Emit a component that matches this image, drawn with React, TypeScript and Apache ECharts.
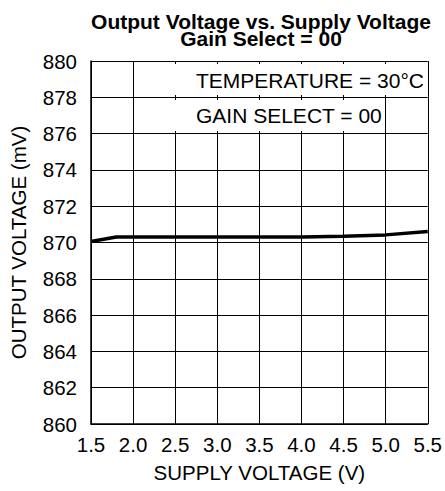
import React, { useEffect, useRef } from "react";
import * as echarts from "echarts";

const supplyVoltage = [1.5, 1.8, 2.0, 2.5, 3.0, 3.5, 4.0, 4.5, 5.0, 5.5];
const outputVoltage = [870.05, 870.3, 870.3, 870.3, 870.3, 870.3, 870.3, 870.35, 870.42, 870.6];
const titleLines = ["Output Voltage vs. Supply Voltage", "Gain Select = 00"];
const notes = ["TEMPERATURE = 30°C", "GAIN SELECT = 00"];

const FONT = "Liberation Sans, Arial, sans-serif";
const FS = 20.5;

export default function App() {
  const ref = useRef<HTMLDivElement>(null);
  useEffect(() => {
    if (!ref.current) return;
    const chart = echarts.init(ref.current, null, { renderer: "svg" });
    chart.setOption({
      animation: false,
      backgroundColor: "#ffffff",
      textStyle: { fontFamily: FONT, color: "#000" },
      title: [
        {
          text: titleLines[0],
          left: 256,
          textAlign: "center",
          top: 6,
          textStyle: { fontFamily: FONT, fontSize: 21, fontWeight: "bold", color: "#000", lineHeight: 20 },
        },
        {
          text: titleLines[1],
          left: 256,
          textAlign: "center",
          top: 23,
          textStyle: { fontFamily: FONT, fontSize: 21, fontWeight: "bold", color: "#000", lineHeight: 20 },
        },
      ],
      grid: { left: 86, right: 17, top: 61, bottom: 67, containLabel: false },
      xAxis: {
        type: "value",
        min: 1.5,
        max: 5.5,
        interval: 0.5,
        name: "SUPPLY VOLTAGE (V)",
        nameLocation: "middle",
        nameGap: 38,
        nameTextStyle: { fontFamily: FONT, fontSize: FS, color: "#000" },
        axisLine: { show: true, lineStyle: { color: "#000", width: 1.5 } },
        axisTick: { show: false },
        axisLabel: { fontFamily: FONT, fontSize: FS, color: "#000", margin: 10, formatter: (v: number) => v.toFixed(1) },
        splitLine: { show: true, lineStyle: { color: "#000", width: 1 } },
      },
      yAxis: {
        type: "value",
        min: 860,
        max: 880,
        interval: 2,
        name: "OUTPUT VOLTAGE (mV)",
        nameLocation: "middle",
        nameGap: 62,
        nameRotate: 90,
        nameTextStyle: { fontFamily: FONT, fontSize: FS, color: "#000" },
        axisLine: { show: true, lineStyle: { color: "#000", width: 1.5 } },
        axisTick: { show: false },
        axisLabel: { fontFamily: FONT, fontSize: FS, color: "#000", margin: 14 },
        splitLine: { show: true, lineStyle: { color: "#000", width: 1 } },
      },
      graphic: [
        { type: "rect", shape: { x: 172, y: 64, width: 254, height: 31 }, style: { fill: "#fff" }, z: 10 },
        {
          type: "text",
          x: 196,
          y: 80,
          style: { text: notes[0], fontFamily: FONT, fontSize: 21, fill: "#000", textAlign: "left", textVerticalAlign: "middle" },
          z: 11,
        },
        { type: "rect", shape: { x: 172, y: 100, width: 211, height: 31 }, style: { fill: "#fff" }, z: 10 },
        {
          type: "text",
          x: 196,
          y: 115,
          style: { text: notes[1], fontFamily: FONT, fontSize: 21, fill: "#000", textAlign: "left", textVerticalAlign: "middle" },
          z: 11,
        },
      ],
      series: [
        {
          type: "line",
          data: supplyVoltage.map((x, i) => [x, outputVoltage[i]]),
          showSymbol: false,
          lineStyle: { color: "#000", width: 3.5 },
          z: 5,
        },
      ],
    });
    return () => chart.dispose();
  }, []);
  return <div ref={ref} style={{ width: 445, height: 491, position: "absolute", left: 0, top: 0 }} />;
}
